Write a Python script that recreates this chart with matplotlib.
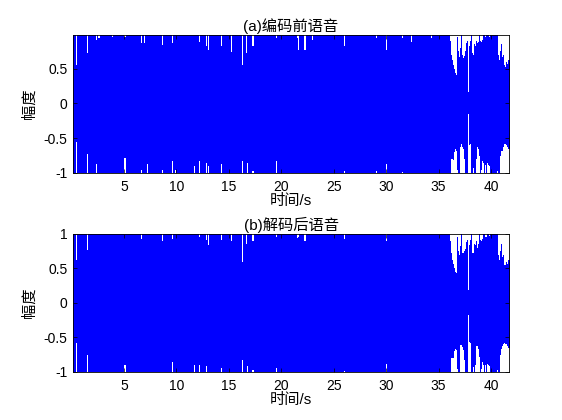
import numpy as np
import matplotlib
matplotlib.use("Agg")
import matplotlib.pyplot as plt

plt.rcParams['font.family'] = ['Liberation Sans', 'Noto Sans CJK SC', 'DejaVu Sans']
plt.rcParams['font.size'] = 10

# ---------------- data ----------------
titles = ['(a)编码前语音', '(b)解码后语音']
xlabel = '时间/s'
ylabel = '幅度'
xticks = [5, 10, 15, 20, 25, 30, 35, 40]
x_range = (0.13, 41.72)
ylims = [(-1.0, 0.985), (-1.0, 1.0)]
yticks = [[-1, -0.5, 0, 0.5], [-1, -0.5, 0, 0.5, 1]]

# quiet part: short dips of the envelope (time s, upper value, lower value)
a_notch_t = [0.48, 1.47, 2.39, 2.61, 3.94, 5.09, 6.68, 6.98, 7.25, 8.71, 9.64, 9.95,
             11.76, 12.24, 12.88, 13.10, 14.31, 15.29, 16.31, 16.72, 16.82, 17.30,
             19.56, 21.56, 21.62, 22.26, 23.02, 26.07, 29.09, 30.05, 31.60, 32.43, 34.34]
a_notch_up = [0.55, 0.72, 0.91, 0.94, 0.96, 0.96, 0.87, 0.87, 1.0, 0.84, 0.87, 1.0,
              1.0, 0.89, 0.82, 0.77, 0.82, 0.74, 0.55, 0.72, 1.0, 0.82,
              0.94, 0.94, 0.77, 0.77, 0.91, 0.82, 0.94, 0.77, 0.94, 0.89, 0.94]
a_notch_lo = [-0.55, -0.72, -0.87, -1.0, -1.0, -0.78, -0.95, -1.0, -0.87, -0.95, -0.83, -0.95,
              -0.90, -0.83, -0.85, -0.90, -0.87, -1.0, -0.83, -1.0, -0.85, -0.97,
              -0.83, -1.0, -1.0, -1.0, -1.0, -0.97, -0.97, -0.87, -0.98, -1.0, -1.0]

b_notch_t = [0.48, 1.47, 5.09, 6.68, 8.71, 9.64, 11.76, 12.24, 12.88, 13.10, 14.31,
             15.29, 16.31, 16.72, 16.82, 17.30, 19.56, 21.56, 21.62, 22.26, 26.07, 30.05]
b_notch_up = [0.62, 0.77, 1.0, 0.93, 0.90, 0.93, 1.0, 0.95, 0.92, 0.84, 0.92,
              0.90, 0.60, 0.85, 1.0, 0.90, 0.95, 0.94, 0.95, 0.90, 0.93, 0.90]
b_notch_lo = [-0.58, -0.75, -0.90, -1.0, -1.0, -0.85, -0.90, -0.90, -0.92, -1.0, -0.94,
              -1.0, -0.83, -1.0, -0.92, -0.97, -0.94, -1.0, -1.0, -1.0, -0.98, -0.88]

# loud part (from 35.99 s, one value every 0.0954 s)
loud_t0 = 35.99
loud_dt = 0.0954
a_loud_up = [1.0, 0.90, 0.70, 0.62, 0.55, 0.50, 0.44, 0.41, 0.95, 0.75, 0.67, 0.80, 1.0, 0.70,
             0.66, 0.68, 0.75, 0.87, 0.90, 0.16, 0.83, 0.90, 1.0, 0.72, 0.70, 0.85, 0.83, 0.90,
             0.87, 0.88, 1.0, 0.90, 0.88, 0.92, 1.0, 1.0, 0.95, 1.0, 1.0, 1.0, 0.95, 1.0,
             1.0, 1.0, 1.0, 1.0, 1.0, 1.0, 1.0, 0.70, 0.62, 0.75, 0.85, 0.67, 0.70, 0.55,
             0.53, 0.60, 0.57, 0.62]
a_loud_lo = [-1.0, -1.0, -0.80, -0.80, -0.82, -0.70, -0.66, -0.68, -0.95, -1.0, -1.0, -0.62,
             -0.58, -0.62, -0.66, -0.80, -1.0, -1.0, -1.0, -0.15, -0.60, -0.58, -1.0, -1.0,
             -0.93, -1.0, -1.0, -0.80, -0.63, -0.66, -0.75, -1.0, -0.95, -0.83, -0.85, -1.0,
             -0.88, -1.0, -0.85, -0.88, -0.90, -1.0, -1.0, -1.0, -1.0, -1.0, -1.0, -1.0,
             -0.97, -1.0, -1.0, -0.75, -0.68, -0.68, -0.62, -0.58, -0.58, -0.60, -0.62, -0.65]
b_loud_up = [1.0, 0.90, 0.72, 0.63, 0.56, 0.50, 0.45, 0.43, 0.95, 0.76, 0.70, 0.82, 1.0, 0.72,
             0.72, 0.75, 0.78, 0.88, 0.92, 0.19, 0.84, 0.92, 1.0, 0.72, 0.72, 0.86, 0.84, 0.90,
             0.80, 0.85, 1.0, 0.92, 0.90, 0.93, 1.0, 1.0, 0.96, 0.95, 1.0, 1.0, 0.97, 1.0,
             1.0, 1.0, 1.0, 1.0, 1.0, 1.0, 1.0, 0.70, 0.62, 0.75, 0.85, 0.67, 0.70, 0.55,
             0.55, 0.60, 0.57, 0.62]
b_loud_lo = [-1.0, -1.0, -0.80, -0.80, -0.80, -0.70, -0.66, -0.68, -0.95, -1.0, -1.0, -0.61,
             -0.61, -0.64, -0.68, -0.82, -1.0, -1.0, -1.0, -0.17, -0.56, -0.58, -1.0, -1.0,
             -0.93, -1.0, -0.90, -0.63, -0.63, -0.66, -0.78, -1.0, -0.95, -0.85, -0.90, -1.0,
             -0.90, -1.0, -0.88, -0.90, -0.92, -1.0, -1.0, -1.0, -1.0, -1.0, -1.0, -1.0,
             -0.97, -1.0, -1.0, -0.75, -0.66, -0.62, -0.60, -0.58, -0.60, -0.60, -0.62, -0.65]

notch_width = 0.10
wave_color = '#0000ff'


def envelope(notch_t, notch_up, notch_lo, loud_up, loud_lo):
    ts, ups, los = [x_range[0]], [1.0], [-1.0]
    for t, u, l in zip(notch_t, notch_up, notch_lo):
        ts += [t - notch_width / 2, t + notch_width / 2]
        ups += [u, 1.0]
        los += [l, -1.0]
    for i, (u, l) in enumerate(zip(loud_up, loud_lo)):
        ts.append(loud_t0 + i * loud_dt)
        ups.append(u)
        los.append(l)
    ts.append(x_range[1] + 0.1)
    ups.append(ups[-1])
    los.append(los[-1])
    return np.array(ts), np.array(ups), np.array(los)


envs = [envelope(a_notch_t, a_notch_up, a_notch_lo, a_loud_up, a_loud_lo),
        envelope(b_notch_t, b_notch_up, b_notch_lo, b_loud_up, b_loud_lo)]

fig = plt.figure(figsize=(5.62, 4.20), dpi=100)
fig.patch.set_facecolor('white')
positions = [[0.1299, 0.5881, 0.7758, 0.3286], [0.1299, 0.1143, 0.7758, 0.3286]]

for k in range(2):
    ax = fig.add_axes(positions[k])
    t, up, lo = envs[k]
    ax.fill_between(t, lo, up, step='post', color=wave_color, linewidth=0, antialiased=False)
    ax.set_xlim(*x_range)
    ax.set_ylim(*ylims[k])
    ax.set_xticks(xticks)
    ax.set_xticklabels([str(v) for v in xticks])
    ax.set_yticks(yticks[k])
    ax.set_yticklabels(['%g' % v for v in yticks[k]])
    ax.tick_params(direction='in', length=3, width=0.5, top=True, right=True,
                   labelsize=10, pad=4)
    ax.tick_params(axis='x', pad=5)
    for s in ax.spines.values():
        s.set_linewidth(0.6)
        s.set_zorder(5)
    ax.set_title(titles[k], fontsize=11, pad=3)
    ax.set_xlabel(xlabel, fontsize=11, labelpad=0)
    ax.set_ylabel(ylabel, fontsize=11, labelpad=5)

fig.savefig('out.png', dpi=100, facecolor='white')
